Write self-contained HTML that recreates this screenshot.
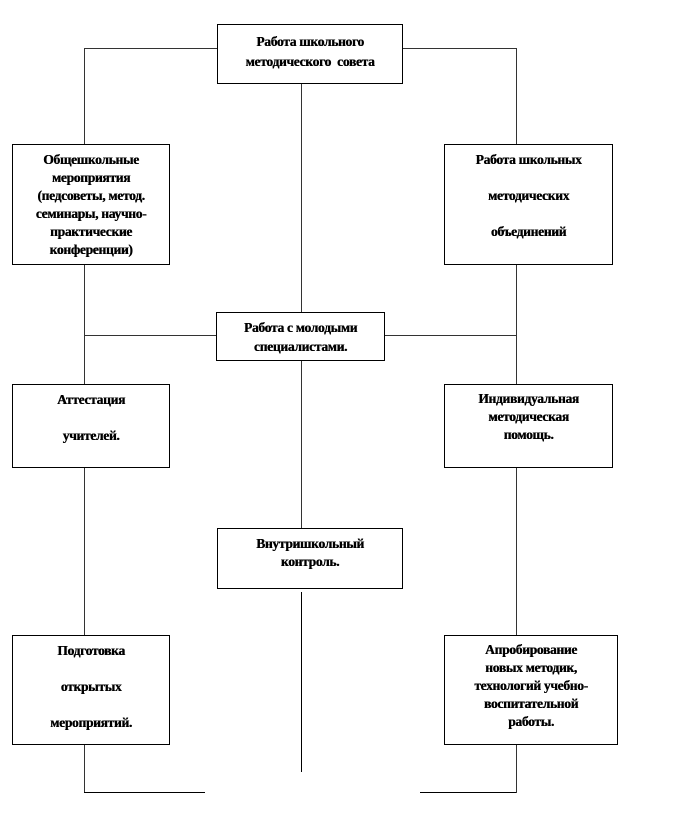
<!DOCTYPE html>
<html><head><meta charset="utf-8"><style>
body{margin:0;width:684px;height:816px;background:#fff;position:relative;overflow:hidden;font-family:"Liberation Serif","Noto Serif CJK SC",serif;}
.b{position:absolute;border:1px solid #000;box-sizing:border-box;background:#fff;text-align:center;font-weight:bold;font-size:13.5px;letter-spacing:-0.3px;line-height:18px;color:#000;white-space:nowrap;text-shadow:0.4px 0 0 #000;}
.l{position:absolute;background:#333;}
</style></head><body>
<div class="l" style="left:84px;top:48px;width:133px;height:1px"></div>
<div class="l" style="left:403px;top:48px;width:113px;height:1px"></div>
<div class="l" style="left:84px;top:48px;width:1px;height:745px"></div>
<div class="l" style="left:516px;top:48px;width:1px;height:745px"></div>
<div class="l" style="left:301px;top:83px;width:1px;height:445px"></div>
<div class="l" style="left:84px;top:335px;width:432px;height:1px"></div>
<div class="l" style="left:301px;top:592px;width:1px;height:180px;background:#000"></div>
<div class="l" style="left:84px;top:792px;width:121px;height:1px;background:#000"></div>
<div class="l" style="left:420px;top:792px;width:96px;height:1px;background:#000"></div>
<div class="b" style="left:217px;top:24px;width:186px;height:60px;padding-top:7px;line-height:20px">Работа школьного<br>методического&nbsp; совета</div>
<div class="b" style="left:12px;top:144px;width:158px;height:121px;padding-top:6px">Общешкольные<br>мероприятия<br>(педсоветы, метод.<br>семинары, научно-<br>практические<br>конференции)</div>
<div class="b" style="left:444px;top:144px;width:169px;height:121px;line-height:36px"><div style="margin-top:-3px">Работа школьных<br>методических<br>объединений</div></div>
<div class="b" style="left:216px;top:312px;width:169px;height:49px;padding-top:5px;line-height:19px">Работа с молодыми<br>специалистами.</div>
<div class="b" style="left:12px;top:384px;width:158px;height:84px;line-height:36px"><div style="margin-top:-3px">Аттестация<br>учителей.</div></div>
<div class="b" style="left:444px;top:384px;width:169px;height:84px;padding-top:5px">Индивидуальная<br>методическая<br>помощь.</div>
<div class="b" style="left:217px;top:528px;width:186px;height:61px;padding-top:6px">Внутришкольный<br>контроль.</div>
<div class="b" style="left:12px;top:635px;width:158px;height:110px;line-height:36px"><div style="margin-top:-3px">Подготовка<br>открытых<br>мероприятий.</div></div>
<div class="b" style="left:444px;top:635px;width:174px;height:110px;padding-top:5px">Апробирование<br>новых методик,<br>технологий учебно-<br>воспитательной<br>работы.</div>
</body></html>
